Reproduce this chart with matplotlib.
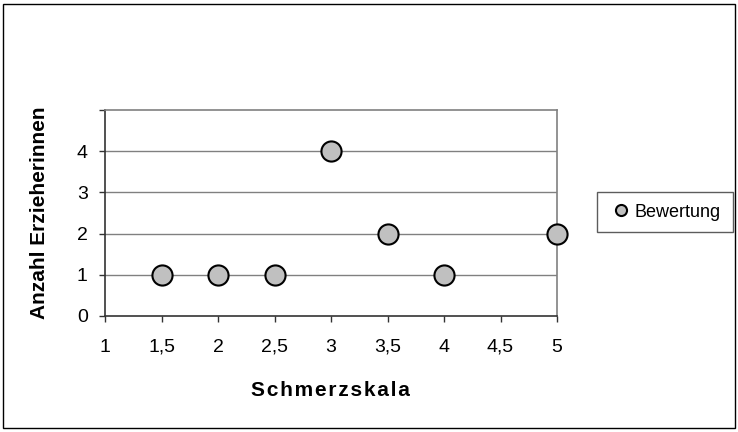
import matplotlib
matplotlib.use('Agg')
import matplotlib.pyplot as plt
from matplotlib.patches import Rectangle

# Schmerzskala ratings and count of educators
scale = [1.5, 2, 2.5, 3, 3.5, 4, 5]
count = [1, 1, 1, 4, 2, 1, 2]
x_ticks = [1, 1.5, 2, 2.5, 3, 3.5, 4, 4.5, 5]
x_labels = ['1', '1,5', '2', '2,5', '3', '3,5', '4', '4,5', '5']
y_ticks = [0, 1, 2, 3, 4, 5]
y_labels = ['0', '1', '2', '3', '4', '']

plt.rcParams['font.family'] = ['Liberation Sans', 'DejaVu Sans']

W, H = 738, 432
fig = plt.figure(figsize=(W / 100, H / 100), dpi=100)
fig.patch.set_facecolor('white')

# outer chart frame
fig.patches.append(Rectangle((3 / W, 4 / H), 732 / W, 424 / H, transform=fig.transFigure,
                             fill=False, edgecolor='black', linewidth=1.0))

left, right, top, bottom = 105, 557, 110, 316
ax = fig.add_axes([left / W, 1 - bottom / H, (right - left) / W, (bottom - top) / H])
ax.set_xlim(1, 5)
ax.set_ylim(0, 5)

for y in [1, 2, 3, 4]:
    ax.axhline(y, color='#808080', linewidth=1.0, zorder=1)

ax.spines['top'].set_color('#808080')
ax.spines['right'].set_color('#808080')
ax.spines['left'].set_color('#333333')
ax.spines['bottom'].set_color('#333333')
for s in ax.spines.values():
    s.set_linewidth(1.2)

ax.plot(scale, count, linestyle='none', marker='o', markersize=14.5,
        markerfacecolor='#C0C0C0', markeredgecolor='black', markeredgewidth=1.5,
        clip_on=False, zorder=3, label='Bewertung')

ax.set_xticks(x_ticks)
ax.set_xticklabels(x_labels)
ax.set_yticks(y_ticks)
ax.set_yticklabels(y_labels)
ax.tick_params(direction='out', length=4.5, width=1, color='#333333', labelsize=14)
ax.tick_params(axis='x', pad=12)
ax.tick_params(axis='y', pad=8)

# axis titles, slightly letter-spaced
ax.set_xlabel('\u200a'.join('Schmerzskala'), fontsize=15, fontweight='bold')
ax.xaxis.set_label_coords((330 - left) / (right - left), (bottom - 390) / (bottom - top))
ax.xaxis.label.set_va('center')
ax.set_ylabel('Anzahl Erzieherinnen', fontsize=15, fontweight='bold')
ax.yaxis.set_label_coords((40 - left) / (right - left), (bottom - 213) / (bottom - top))
ax.yaxis.label.set_va('center')

leg = fig.legend(loc='upper left', bbox_to_anchor=(597 / W, 1 - 192 / H),
                 frameon=True, fancybox=False, fontsize=13, markerscale=0.55,
                 handlelength=1.4, handletextpad=0.05, borderpad=0.65,
                 borderaxespad=0)
leg.get_frame().set_edgecolor('#333333')
leg.get_frame().set_linewidth(1.0)

fig.savefig('out.png', dpi=100)
